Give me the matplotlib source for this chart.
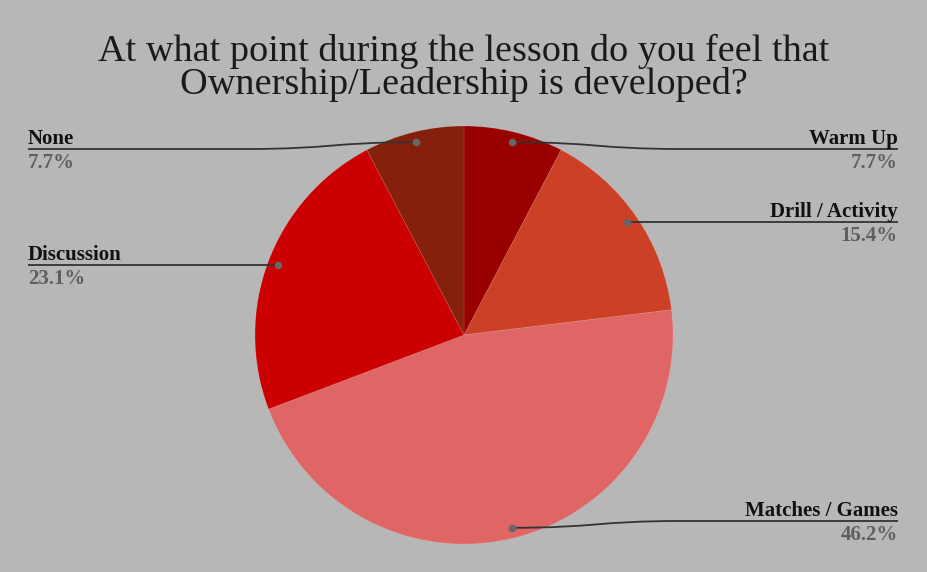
import matplotlib
matplotlib.use("Agg")
import matplotlib.pyplot as plt
import numpy as np
from matplotlib.path import Path
from matplotlib.patches import PathPatch

labels = ["Warm Up", "Drill / Activity", "Matches / Games", "Discussion", "None"]
values = [7.7, 15.4, 46.2, 23.1, 7.7]
pct_labels = ["7.7%", "15.4%", "46.2%", "23.1%", "7.7%"]
colors = ["#990000", "#cc4125", "#e06666", "#cc0000", "#85200c"]
title_lines = ["At what point during the lesson do you feel that",
               "Ownership/Leadership is developed?"]

W, H = 928, 572
BG = "#b7b7b7"
plt.rcParams['font.family'] = ['Liberation Serif', 'DejaVu Serif']

fig = plt.figure(figsize=(W / 100, H / 100), dpi=100, facecolor=BG)
ax = fig.add_axes([0, 0, 1, 1])
ax.set_facecolor(BG)

cx, cy, R = 464, H - 335, 209
wedges, _ = ax.pie(values, colors=colors, startangle=90, counterclock=False,
                   center=(cx, cy), radius=R, frame=True,
                   wedgeprops=dict(linewidth=0.6, edgecolor=(1, 1, 1, 0.12)))
ax.set_xlim(0, W)
ax.set_ylim(0, H)
ax.set_aspect('equal')
ax.axis('off')

for i, line in enumerate(title_lines):
    ax.text(W / 2, H - 61 - i * 33.5, line, ha='center', va='baseline',
            fontsize=27.5, color='#1a1a1a')

y_top, y_bot = H - 149, H - 521
for w, lab, pct in zip(wedges, labels, pct_labels):
    mid = np.deg2rad((w.theta1 + w.theta2) / 2)
    ax_x = cx + 0.95 * R * np.cos(mid)
    ax_y = cy + 0.95 * R * np.sin(mid)
    right = np.cos(mid) >= 0
    ly = min(max(ax_y, y_bot), y_top)
    xend = 898 if right else 28
    sgn = 1 if right else -1
    if abs(ly - ax_y) > 1:
        xb = ax_x + sgn * 170
        verts = [(ax_x, ax_y), (ax_x + sgn * 85, ax_y), (xb - sgn * 85, ly), (xb, ly), (xend, ly)]
        codes = [Path.MOVETO, Path.CURVE4, Path.CURVE4, Path.CURVE4, Path.LINETO]
    else:
        verts = [(ax_x, ax_y), (xend, ly)]
        codes = [Path.MOVETO, Path.LINETO]
    ax.add_patch(PathPatch(Path(verts, codes), fill=False, edgecolor='#333333', lw=1.3, zorder=5))
    ax.plot([ax_x], [ax_y], 'o', color='#666666', ms=4.5, zorder=6)
    ha = 'right' if right else 'left'
    ax.text(xend, ly + 5, lab, ha=ha, va='baseline', fontsize=15,
            fontweight='bold', color='#111111', zorder=7)
    ax.text(xend, ly - 19, pct, ha=ha, va='baseline', fontsize=15,
            fontweight='bold', color='#5f5f5f', zorder=7)

fig.savefig("out.png", dpi=100, facecolor=BG)
